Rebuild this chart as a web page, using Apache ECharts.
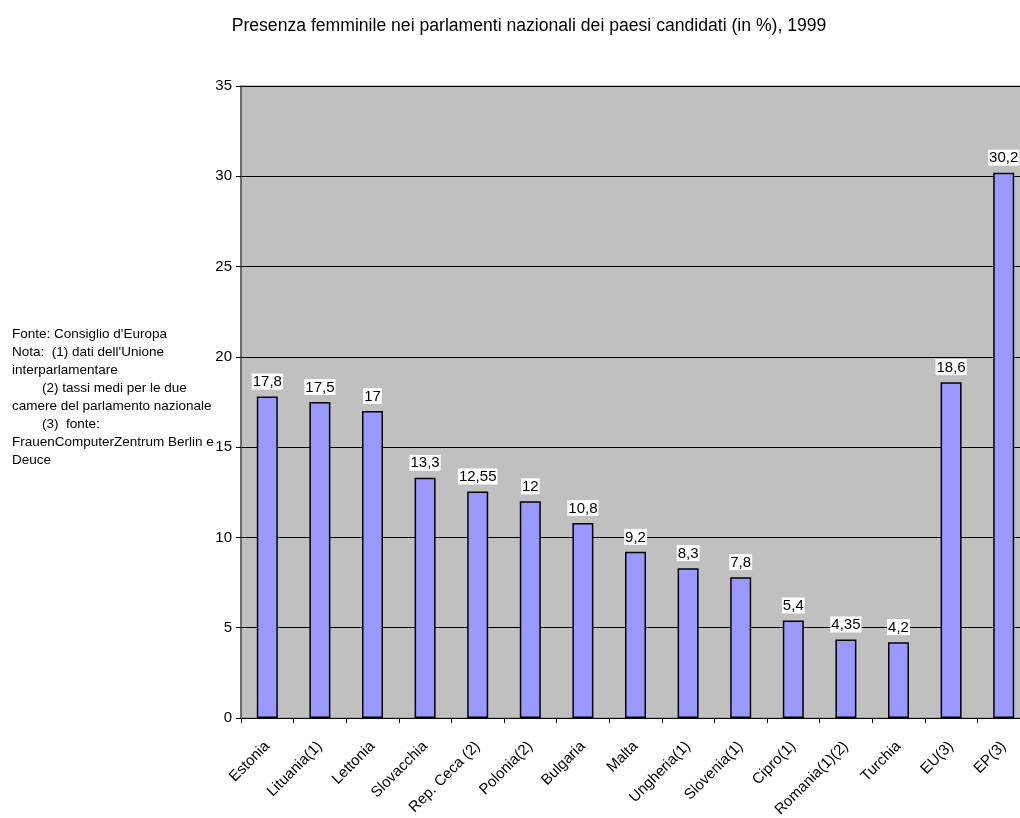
<!DOCTYPE html>
<html>
<head>
<meta charset="utf-8">
<script src="https://cdn.jsdelivr.net/npm/echarts@6/dist/echarts.min.js"></script>
<style>
  html, body { margin: 0; padding: 0; background: #fff; }
  #chart { width: 1020px; height: 818px; }
</style>
</head>
<body>
<div id="chart"></div>
<script>
const countries = ["Estonia", "Lituania(1)", "Lettonia", "Slovacchia", "Rep. Ceca (2)", "Polonia(2)", "Bulgaria", "Malta", "Ungheria(1)", "Slovenia(1)", "Cipro(1)", "Romania(1)(2)", "Turchia", "EU(3)", "EP(3)"];
const values = [17.8, 17.5, 17, 13.3, 12.55, 12, 10.8, 9.2, 8.3, 7.8, 5.4, 4.35, 4.2, 18.6, 30.2];
const noteLines = [
  "Fonte: Consiglio d'Europa",
  "Nota:  (1) dati dell'Unione",
  "interparlamentare",
  "        (2) tassi medi per le due",
  "camere del parlamento nazionale",
  "        (3)  fonte:",
  "FrauenComputerZentrum Berlin e",
  "Deuce"
];

var chart = echarts.init(document.getElementById('chart'));
var font = "'Liberation Sans', Arial, sans-serif";
chart.setOption({
  animation: false,
  textStyle: { fontFamily: font },
  title: {
    text: 'Presenza femminile nei parlamenti nazionali dei paesi candidati (in %), 1999',
    left: 524,
    textAlign: 'center',
    top: 12,
    textStyle: { fontSize: 17.6, fontWeight: 'normal', color: '#000', fontFamily: font }
  },
  graphic: [{
    type: 'text',
    left: 12,
    top: 325,
    style: {
      text: noteLines.join('\n'),
      font: '13.5px ' + font,
      lineHeight: 18,
      fill: '#000'
    }
  }],
  grid: {
    left: 241,
    top: 86,
    width: 789,
    height: 632,
    outerBoundsMode: 'none',
    containLabel: false,
    show: true,
    backgroundColor: '#c0c0c0',
    borderColor: '#808080',
    borderWidth: 1
  },
  xAxis: {
    type: 'category',
    data: countries,
    axisLine: { lineStyle: { color: '#000', width: 1 } },
    axisTick: { show: true, alignWithLabel: false, length: 5, lineStyle: { color: '#000' } },
    axisLabel: {
      rotate: 45,
      interval: 0,
      fontSize: 15,
      color: '#000',
      margin: 26,
      fontFamily: font
    }
  },
  yAxis: {
    type: 'value',
    min: 0,
    max: 35,
    interval: 5,
    axisLine: { show: true, lineStyle: { color: '#555', width: 1.5 } },
    axisTick: { show: true, length: 5, lineStyle: { color: '#000' } },
    axisLabel: { fontSize: 15, color: '#000', margin: 9, fontFamily: font },
    splitLine: { show: true, lineStyle: { color: '#000', width: 1 } }
  },
  series: [{
    type: 'bar',
    data: values,
    barWidth: 21,
    itemStyle: { color: '#9999ff', borderColor: '#000', borderWidth: 1.5 },
    label: {
      show: true,
      position: 'top',
      distance: 7,
      fontSize: 15,
      color: '#000',
      backgroundColor: '#fff',
      padding: [1, 1, 0, 1],
      fontFamily: font,
      formatter: function (p) { return String(p.value).replace('.', ','); }
    }
  }]
});
</script>
</body>
</html>
